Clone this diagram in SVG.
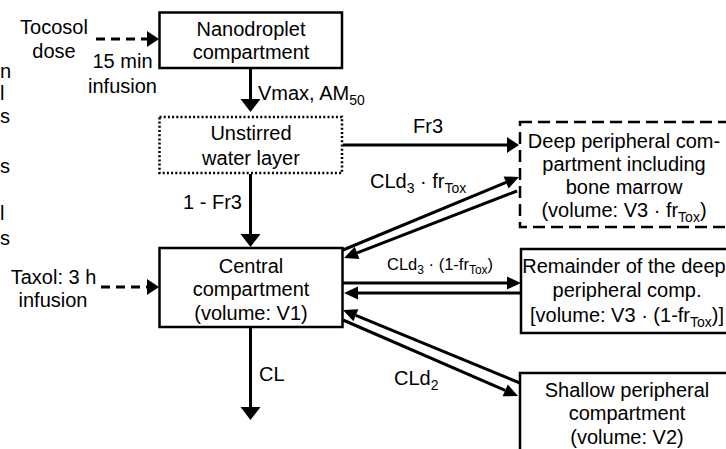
<svg xmlns="http://www.w3.org/2000/svg" width="726" height="449" viewBox="0 0 726 449">
<style>
text{font-family:"Liberation Sans",Arial,sans-serif;font-size:20px;fill:#000}
.c{text-anchor:middle}
.e{text-anchor:end}
.sm{font-size:16.5px}
.sub{font-size:14px}
.sub2{font-size:12px}
.box{fill:#fff;stroke:#000;stroke-width:2.5}
.dot{fill:#fff;stroke:#000;stroke-width:2.5;stroke-dasharray:2 2.2}
.dash{fill:#fff;stroke:#000;stroke-width:2.5;stroke-dasharray:12 6}
.ln{fill:none;stroke:#000;stroke-width:3}
.dl{fill:none;stroke:#000;stroke-width:3;stroke-dasharray:9 6}
</style>
<defs>
<marker id="big" markerUnits="userSpaceOnUse" orient="auto" refX="0" refY="0" markerWidth="30" markerHeight="30" overflow="visible"><path d="M0,-10 L13,0 L0,10 Z" fill="#000"/></marker>
<marker id="mid" markerUnits="userSpaceOnUse" orient="auto" refX="0" refY="0" markerWidth="30" markerHeight="30" overflow="visible"><path d="M0,-8 L12,0 L0,8 Z" fill="#000"/></marker>
<marker id="sml" markerUnits="userSpaceOnUse" orient="auto" refX="0" refY="0" markerWidth="30" markerHeight="30" overflow="visible"><path d="M0,-6.5 L14,0 L0,6.5 Z" fill="#000"/></marker>
</defs>
<rect width="726" height="449" fill="#fff"/>

<g id="cropped-text">
<text x="0" y="78">n</text>
<text x="0" y="100">l</text>
<text x="0" y="123">s</text>
<text x="0" y="173">s</text>
<text x="0" y="220">l</text>
<text x="0" y="245">s</text>
</g>

<g id="tocosol-dose">
<text class="c" x="54" y="34">Tocosol</text>
<text class="c" x="54" y="58">dose</text>
</g>

<g id="taxol-dose">
<text class="c" x="53.5" y="284">Taxol: 3 h</text>
<text class="c" x="53" y="307">infusion</text>
</g>

<g id="nanodroplet">
<rect class="box" x="159.5" y="12.5" width="182.5" height="55.5"/>
<text class="c" x="251" y="36">Nanodroplet</text>
<text class="c" x="251" y="59">compartment</text>
</g>

<g id="unstirred">
<rect class="dot" x="159.5" y="117" width="182.5" height="56"/>
<text class="c" x="251" y="140">Unstirred</text>
<text class="c" x="251" y="165">water layer</text>
</g>

<g id="central">
<rect class="box" x="159.5" y="248" width="183" height="79"/>
<text class="c" x="251" y="273">Central</text>
<text class="c" x="251" y="296">compartment</text>
<text class="c" x="251" y="320">(volume: V1)</text>
</g>

<g id="deep">
<rect class="dash" x="520" y="122" width="230" height="105"/>
<text class="c" x="624" y="148">Deep peripheral com-</text>
<text class="c" x="624" y="171">partment including</text>
<text class="c" x="624" y="194">bone marrow</text>
<text class="c" x="624" y="217">(volume: V3 · fr<tspan class="sub" dy="5">Tox</tspan><tspan dy="-5">)</tspan></text>
</g>

<g id="remainder">
<rect class="box" x="521" y="249" width="230" height="84"/>
<text class="c" x="624" y="273">Remainder of the deep</text>
<text class="c" x="627" y="297">peripheral comp.</text>
<text class="c" x="627" y="322">[volume: V3 · (1-fr<tspan class="sub" dy="5">Tox</tspan><tspan dy="-5">)]</tspan></text>
</g>

<g id="shallow">
<rect class="box" x="520" y="373" width="230" height="100"/>
<text class="c" x="627" y="397">Shallow peripheral</text>
<text class="c" x="627" y="420">compartment</text>
<text class="c" x="627" y="444">(volume: V2)</text>
</g>

<g id="connectors">
<line class="dl" x1="96" y1="39" x2="147" y2="39" marker-end="url(#mid)"/>
<line class="dl" x1="101" y1="287" x2="147" y2="287" marker-end="url(#mid)"/>
<line class="ln" x1="250.5" y1="69" x2="250.5" y2="99" marker-end="url(#big)"/>
<line class="ln" x1="250.5" y1="174" x2="250.5" y2="234" marker-end="url(#big)"/>
<line class="ln" x1="250.5" y1="328" x2="250.5" y2="407" marker-end="url(#big)"/>
<line class="ln" x1="343" y1="145" x2="507" y2="145" marker-end="url(#mid)"/>
<line class="ln" x1="343" y1="250" x2="506.1" y2="182.4" marker-end="url(#sml)"/>
<line class="ln" x1="517" y1="191" x2="357.1" y2="252.9" marker-end="url(#sml)"/>
<line class="ln" x1="343" y1="283" x2="507" y2="283" marker-end="url(#sml)"/>
<line class="ln" x1="521" y1="293" x2="358" y2="293" marker-end="url(#sml)"/>
<line class="ln" x1="520" y1="383" x2="355.9" y2="315.3" marker-end="url(#sml)"/>
<line class="ln" x1="343" y1="320" x2="505.2" y2="390.4" marker-end="url(#sml)"/>
</g>

<g id="labels">
<text class="c" x="122.5" y="68">15 min</text>
<text class="c" x="122.5" y="93">infusion</text>
<text x="258" y="100">Vmax, AM<tspan class="sub" dy="5">50</tspan></text>
<text class="e" x="242" y="209">1 - Fr3</text>
<text class="c" x="428" y="133">Fr3</text>
<text x="370" y="188">CLd<tspan class="sub" dy="5">3</tspan><tspan dy="-5"> · fr</tspan><tspan class="sub" dy="5">Tox</tspan></text>
<text class="sm" x="387" y="270">CLd<tspan class="sub2" dy="4">3</tspan><tspan dy="-4"> · (1-fr</tspan><tspan class="sub2" dy="4">Tox</tspan><tspan dy="-4">)</tspan></text>
<text x="259" y="381">CL</text>
<text x="394" y="385">CLd<tspan class="sub" dy="5">2</tspan></text>
</g>
</svg>
